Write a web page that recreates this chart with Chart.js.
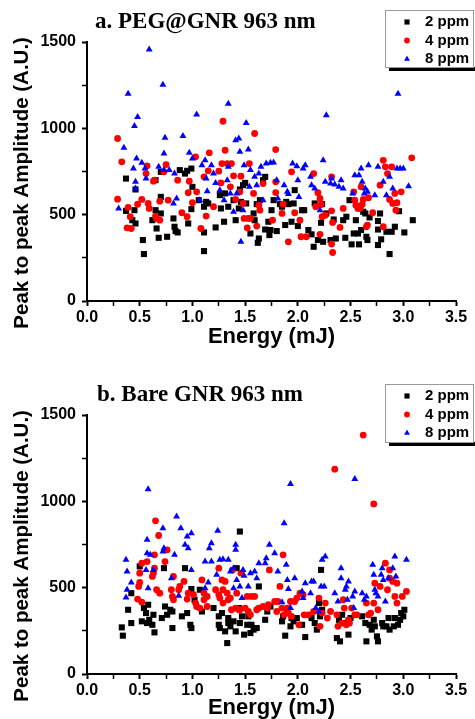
<!DOCTYPE html>
<html>
<head>
<meta charset="utf-8">
<title>Peak to peak amplitude vs energy</title>
<script src="https://cdn.jsdelivr.net/npm/chart.js@4.4.1/dist/chart.umd.min.js"></script>
<style>
  html, body { margin: 0; padding: 0; background: #fff; overflow: hidden; }
  .panel { position: relative; width: 475px; }
  #panelA { height: 360px; }
  #panelB { height: 359px; }
</style>
</head>
<body>
<div class="panel" id="panelA"><canvas id="chartA"></canvas></div>
<div class="panel" id="panelB"><canvas id="chartB"></canvas></div>
<script>
// Labels
const seriesLabels = ["2 ppm", "4 ppm", "8 ppm"];
const titleA = "a. PEG@GNR 963 nm";
const titleB = "b. Bare GNR 963 nm";
const xTitle = "Energy (mJ)";
const yTitle = "Peak to peak Amplitude (A.U.)";
const xRange = [0, 3.5];
const yRange = [0, 1500];

// Panel a: [energy (mJ), amplitude (A.U.)]
const peg2ppm = [
  [0.37,709],[0.37,522],[0.43,468],[0.45,526],[0.46,646],[0.46,449],[0.53,353],[0.54,272],
  [0.62,468],[0.65,526],[0.65,700],[0.66,420],[0.68,366],[0.70,603],[0.70,507],[0.70,748],
  [0.76,372],[0.82,478],[0.83,430],[0.84,405],[0.86,397],[0.88,758],[0.93,738],[0.95,754],
  [0.96,449],[0.99,767],[0.99,532],[1.00,661],[1.06,584],[1.11,546],[1.11,397],[1.11,289],
  [1.13,574],[1.15,565],[1.22,426],[1.26,613],[1.27,536],[1.30,459],[1.31,623],[1.34,546],
  [1.39,584],[1.41,468],[1.44,536],[1.45,646],[1.46,574],[1.48,671],[1.50,684],[1.51,565],
  [1.55,391],[1.58,507],[1.59,468],[1.61,561],[1.62,337],[1.63,362],[1.64,584],[1.67,700],
  [1.69,719],[1.69,414],[1.72,459],[1.73,382],[1.74,411],[1.75,526],[1.77,584],[1.80,405],
  [1.83,561],[1.85,546],[1.88,440],[1.89,574],[1.91,561],[1.94,459],[1.96,565],[1.97,642],
  [2.00,434],[2.04,526],[2.06,526],[2.10,411],[2.13,386],[2.15,314],[2.16,565],[2.19,353],
  [2.22,453],[2.23,561],[2.24,343],[2.27,507],[2.31,353],[2.34,472],[2.36,362],[2.43,468],
  [2.46,488],[2.45,366],[2.49,584],[2.51,328],[2.53,391],[2.55,468],[2.57,391],[2.58,328],
  [2.60,411],[2.62,517],[2.64,507],[2.65,372],[2.66,353],[2.68,484],[2.76,324],[2.76,463],
  [2.76,414],[2.78,507],[2.79,357],[2.84,401],[2.87,272],[2.89,401],[2.92,430],[2.96,520],
  [3.01,397],[3.09,468]
];
const peg4ppm = [
  [0.29,941],[0.29,590],[0.33,806],[0.38,424],[0.39,542],[0.42,420],[0.41,488],[0.48,561],
  [0.52,588],[0.56,738],[0.57,783],[0.58,565],[0.59,536],[0.63,694],[0.64,700],[0.65,492],
  [0.66,478],[0.69,578],[0.69,468],[0.73,748],[0.75,790],[0.77,584],[0.86,700],[0.90,511],
  [0.95,488],[0.97,694],[0.96,627],[1.00,569],[1.03,835],[1.04,632],[1.08,420],[1.11,719],
  [1.13,492],[1.15,754],[1.16,858],[1.20,546],[1.25,752],[1.27,684],[1.28,796],[1.29,1041],
  [1.31,873],[1.33,796],[1.36,661],[1.37,796],[1.39,725],[1.41,588],[1.45,632],[1.46,723],
  [1.48,565],[1.49,478],[1.52,424],[1.54,796],[1.53,478],[1.55,478],[1.58,623],[1.59,970],
  [1.61,434],[1.63,555],[1.64,526],[1.67,680],[1.76,468],[1.79,877],[1.79,690],[1.79,628],
  [1.85,507],[1.86,561],[1.91,343],[1.94,748],[1.97,511],[2.02,468],[2.03,372],[2.08,372],
  [2.15,738],[2.17,546],[2.19,627],[2.21,594],[2.22,559],[2.21,386],[2.23,488],[2.26,497],
  [2.32,719],[2.32,522],[2.33,455],[2.32,330],[2.33,281],[2.40,426],[2.43,536],[2.53,632],
  [2.54,584],[2.55,555],[2.57,536],[2.59,536],[2.60,661],[2.61,559],[2.62,588],[2.65,430],
  [2.66,440],[2.67,598],[2.71,511],[2.78,671],[2.81,815],[2.83,777],[2.81,430],[2.85,738],
  [2.87,588],[2.89,777],[2.90,565],[2.92,623],[2.93,526],[2.94,569],[2.98,632],[3.08,829]
];
const peg8ppm = [
  [0.30,536],[0.35,887],[0.39,1201],[0.44,767],[0.45,1014],[0.48,1066],[0.46,690],[0.46,652],
  [0.47,825],[0.52,800],[0.55,767],[0.56,709],[0.59,1457],[0.68,777],[0.72,1253],[0.73,854],
  [0.74,946],[0.73,758],[0.78,758],[0.82,565],[0.83,738],[0.85,594],[0.91,956],[0.97,858],
  [1.00,825],[1.04,1080],[1.07,584],[1.09,786],[1.12,815],[1.13,709],[1.14,636],[1.18,786],
  [1.20,738],[1.22,684],[1.26,642],[1.30,584],[1.33,700],[1.34,777],[1.34,1143],[1.36,623],
  [1.39,517],[1.41,931],[1.42,623],[1.44,941],[1.45,864],[1.46,343],[1.48,526],[1.49,786],
  [1.51,1031],[1.53,877],[1.54,661],[1.55,758],[1.59,719],[1.61,671],[1.63,738],[1.65,777],
  [1.67,584],[1.70,796],[1.74,800],[1.77,802],[1.80,700],[1.81,594],[1.87,671],[1.90,632],
  [1.91,619],[1.95,796],[1.99,781],[2.00,700],[2.01,603],[2.05,767],[2.07,786],[2.12,719],
  [2.13,671],[2.16,652],[2.21,526],[2.24,815],[2.26,690],[2.27,1076],[2.31,680],[2.32,709],
  [2.35,675],[2.39,661],[2.41,700],[2.43,652],[2.52,623],[2.54,729],[2.58,729],[2.60,767],
  [2.61,690],[2.63,623],[2.64,652],[2.66,632],[2.67,786],[2.73,613],[2.76,777],[2.81,690],
  [2.84,613],[2.87,719],[2.90,652],[2.94,767],[2.95,1201],[2.97,767],[3.00,767],[3.05,665]
];

// Panel b: [energy (mJ), amplitude (A.U.)]
const bare2ppm = [
  [0.33,270],[0.34,222],[0.39,372],[0.42,295],[0.42,468],[0.50,623],[0.52,305],[0.54,382],
  [0.56,353],[0.57,295],[0.58,401],[0.59,314],[0.62,285],[0.63,343],[0.64,241],[0.71,324],
  [0.73,613],[0.74,391],[0.76,343],[0.79,372],[0.81,266],[0.81,362],[0.90,334],[0.93,613],
  [0.95,353],[0.98,285],[0.99,492],[0.99,266],[1.02,430],[1.07,488],[1.09,362],[1.20,382],
  [1.25,285],[1.25,334],[1.26,266],[1.28,353],[1.31,247],[1.33,179],[1.34,295],[1.34,324],
  [1.36,276],[1.39,305],[1.41,247],[1.42,613],[1.44,382],[1.45,825],[1.45,295],[1.47,334],
  [1.49,228],[1.52,285],[1.53,334],[1.55,237],[1.56,285],[1.58,257],[1.61,266],[1.63,507],
  [1.69,314],[1.71,362],[1.74,391],[1.85,305],[1.86,334],[1.88,222],[1.90,353],[1.93,276],
  [1.94,324],[1.96,305],[1.99,324],[2.04,285],[2.07,214],[2.13,324],[2.16,295],[2.18,257],
  [2.20,411],[2.21,334],[2.22,603],[2.23,372],[2.37,208],[2.40,189],[2.39,314],[2.42,343],
  [2.46,295],[2.48,228],[2.50,324],[2.61,334],[2.64,295],[2.65,189],[2.68,285],[2.70,257],
  [2.72,314],[2.73,276],[2.75,218],[2.76,189],[2.80,295],[2.81,276],[2.84,276],[2.86,324],
  [2.87,257],[2.91,276],[2.92,324],[2.95,285],[2.97,314],[2.98,353],[3.00,334],[3.01,372]
];
const bare4ppm = [
  [0.48,434],[0.49,507],[0.50,584],[0.52,642],[0.50,530],[0.52,416],[0.57,651],[0.62,565],
  [0.63,584],[0.64,690],[0.64,613],[0.65,887],[0.66,488],[0.68,802],[0.69,468],[0.74,651],
  [0.76,719],[0.80,488],[0.81,449],[0.82,565],[0.82,430],[0.87,488],[0.88,507],[0.92,536],
  [0.95,434],[0.96,468],[1.01,459],[1.03,411],[1.04,391],[1.07,382],[1.09,545],[1.11,468],
  [1.11,430],[1.14,449],[1.14,391],[1.22,488],[1.25,613],[1.25,459],[1.26,440],[1.28,545],
  [1.29,488],[1.29,411],[1.31,536],[1.33,468],[1.34,430],[1.36,440],[1.37,372],[1.38,603],
  [1.41,382],[1.42,468],[1.44,372],[1.45,372],[1.46,584],[1.50,382],[1.52,449],[1.53,362],
  [1.55,343],[1.56,449],[1.59,449],[1.61,372],[1.63,382],[1.67,391],[1.71,382],[1.72,401],
  [1.73,603],[1.78,420],[1.80,362],[1.81,420],[1.83,507],[1.86,690],[1.85,382],[1.87,343],
  [1.90,382],[1.91,353],[1.93,420],[1.94,334],[1.97,420],[1.99,440],[2.01,285],[2.02,468],
  [2.05,459],[2.06,343],[2.10,343],[2.15,362],[2.20,440],[2.21,276],[2.23,353],[2.26,411],
  [2.28,324],[2.31,362],[2.35,1186],[2.37,343],[2.38,276],[2.42,295],[2.43,430],[2.44,382],
  [2.46,285],[2.48,314],[2.49,295],[2.51,382],[2.54,343],[2.56,343],[2.62,1384],[2.65,411],
  [2.67,343],[2.69,353],[2.72,411],[2.72,985],[2.73,526],[2.76,372],[2.78,507],[2.83,642],
  [2.85,488],[2.87,603],[2.87,555],[2.90,536],[2.92,449],[2.94,411],[2.94,526],[2.99,449],
  [3.03,478]
];
const bare8ppm = [
  [0.37,661],[0.38,594],[0.38,488],[0.37,443],[0.42,530],[0.57,777],[0.57,700],[0.58,1070],
  [0.58,497],[0.56,603],[0.63,603],[0.60,690],[0.72,844],[0.73,729],[0.72,709],[0.80,555],
  [0.83,690],[0.85,912],[0.87,453],[0.89,844],[0.93,748],[0.95,796],[0.96,729],[0.99,815],
  [0.99,603],[1.12,497],[1.12,651],[1.15,530],[1.16,729],[1.18,757],[1.18,651],[1.23,575],
  [1.24,830],[1.26,661],[1.29,665],[1.34,661],[1.36,594],[1.39,613],[1.41,719],[1.41,748],
  [1.39,497],[1.42,545],[1.45,507],[1.48,603],[1.49,569],[1.47,440],[1.55,584],[1.53,507],
  [1.59,594],[1.61,555],[1.63,642],[1.69,642],[1.70,671],[1.73,748],[1.78,700],[1.81,594],
  [1.85,415],[1.87,873],[1.89,632],[1.90,545],[1.91,492],[1.93,1101],[1.93,382],[1.97,555],
  [2.04,478],[2.05,440],[2.07,526],[2.12,468],[2.13,536],[2.15,536],[2.17,382],[2.20,362],
  [2.23,661],[2.26,681],[2.22,507],[2.25,507],[2.35,468],[2.38,420],[2.41,613],[2.41,555],
  [2.45,488],[2.46,507],[2.48,536],[2.47,430],[2.52,449],[2.54,478],[2.54,1130],[2.53,382],
  [2.61,468],[2.63,430],[2.65,449],[2.71,632],[2.72,575],[2.73,488],[2.74,468],[2.76,449],
  [2.79,575],[2.80,613],[2.81,545],[2.83,420],[2.86,555],[2.90,613],[2.92,681],[2.93,565],
  [3.03,661]
];

const seriesColors = ["#000000", "#ff0000", "#0000ff"];
const seriesStyles = ["rect", "circle", "triangle"];
const seriesRadius = [4.3, 3.4, 4];

const sansFont = "'Liberation Sans', Arial, sans-serif";
const serifFont = "'Liberation Serif', 'Times New Roman', serif";

// Title and boxed legend with shadow, drawn on top of the chart
const panelDecor = {
  id: "panelDecor",
  afterDraw(chart, args, opts) {
    const ctx = chart.ctx;
    ctx.save();
    ctx.fillStyle = "#000";
    ctx.textBaseline = "middle";
    ctx.textAlign = "left";
    ctx.font = "bold 23px " + serifFont;
    ctx.fillText(opts.title, opts.titleX, opts.titleY);

    const b = opts.box;
    ctx.fillStyle = "#000";
    ctx.fillRect(b.left + 4, b.top + b.height, b.width + 4, 4);
    ctx.fillStyle = "#fff";
    ctx.fillRect(b.left, b.top, b.width, b.height);
    ctx.strokeStyle = "#9a9a9a";
    ctx.lineWidth = 1;
    ctx.strokeRect(b.left + 0.5, b.top + 0.5, b.width, b.height);

    ctx.font = "bold 15px " + sansFont;
    chart.data.datasets.forEach((ds, i) => {
      const y = b.top + 12 + i * 18.5;
      ctx.fillStyle = ds.backgroundColor;
      Chart.helpers.drawPoint(ctx, {
        pointStyle: ds.pointStyle, radius: ds.pointRadius * 0.85, rotation: 0, borderWidth: 0
      }, b.left + 22, y);
      ctx.fillStyle = "#000";
      ctx.fillText(ds.label, b.left + 40, y);
    });
    ctx.restore();
  }
};

function toPoints(pairs) {
  return pairs.map(p => ({ x: p[0], y: p[1] }));
}

function buildPanel(canvasId, series, look) {
  return new Chart(document.getElementById(canvasId), {
    type: "scatter",
    data: {
      datasets: series.map((s, i) => ({
        label: seriesLabels[i],
        data: toPoints(s),
        pointStyle: seriesStyles[i],
        pointRadius: seriesRadius[i],
        pointHoverRadius: seriesRadius[i],
        backgroundColor: seriesColors[i],
        borderColor: seriesColors[i],
        borderWidth: 0,
        order: 3 - i
      }))
    },
    options: {
      responsive: true,
      maintainAspectRatio: false,
      animation: false,
      events: [],
      layout: { padding: { left: 0, right: 19, top: look.top, bottom: look.bottom } },
      plugins: {
        legend: { display: false },
        tooltip: { enabled: false },
        panelDecor: { title: look.title, titleX: look.titleX, titleY: look.titleY, box: look.box }
      },
      scales: {
        x: {
          type: "linear",
          min: xRange[0],
          max: xRange[1],
          afterFit: scale => { scale.height = look.xHeight; },
          border: { display: true, color: "#000", width: 2 },
          grid: {
            display: true, drawOnChartArea: false, drawTicks: true,
            tickLength: 5, tickColor: "#000",
            tickWidth: c => (Math.round(c.tick.value * 100) % 50 === 0 ? 2 : 1.5)
          },
          ticks: {
            stepSize: 0.25, autoSkip: false, maxRotation: 0, padding: 2,
            color: "#000", font: { family: sansFont, size: 16, weight: "bold" },
            callback: v => (Math.round(v * 100) % 50 === 0 ? v.toFixed(1) : "")
          },
          title: {
            display: true, text: xTitle, color: "#000",
            font: { family: sansFont, size: 22, weight: "bold", lineHeight: 1 },
            padding: { top: 0, bottom: look.xTitlePad }
          }
        },
        y: {
          type: "linear",
          min: yRange[0],
          max: yRange[1],
          afterFit: scale => { scale.width = 87; },
          border: { display: true, color: "#000", width: 2 },
          grid: {
            display: true, drawOnChartArea: false, drawTicks: true,
            tickLength: 5, tickColor: "#000",
            tickWidth: c => (c.tick.value % 500 === 0 ? 2 : 1.5)
          },
          ticks: {
            stepSize: 250, autoSkip: false, padding: 6,
            color: "#000", font: { family: sansFont, size: 16, weight: "bold" },
            callback: v => (v % 500 === 0 ? String(v) : "")
          },
          title: {
            display: true, text: yTitle + "    ", color: "#000",
            font: { family: sansFont, size: 20.5, weight: "bold", lineHeight: 1 },
            padding: { top: 12, bottom: 0 }
          }
        }
      }
    },
    plugins: [panelDecor]
  });
}

buildPanel("chartA", [peg2ppm, peg4ppm, peg8ppm], {
  top: 42, bottom: 9, xHeight: 50, xTitlePad: 3,
  title: titleA, titleX: 95, titleY: 22,
  box: { left: 385, top: 10, width: 88, height: 57 }
});

buildPanel("chartB", [bare2ppm, bare4ppm, bare8ppm], {
  top: 55, bottom: 0, xHeight: 45, xTitlePad: 0,
  title: titleB, titleX: 97, titleY: 35,
  box: { left: 385, top: 24, width: 88, height: 58 }
});
</script>
</body>
</html>
